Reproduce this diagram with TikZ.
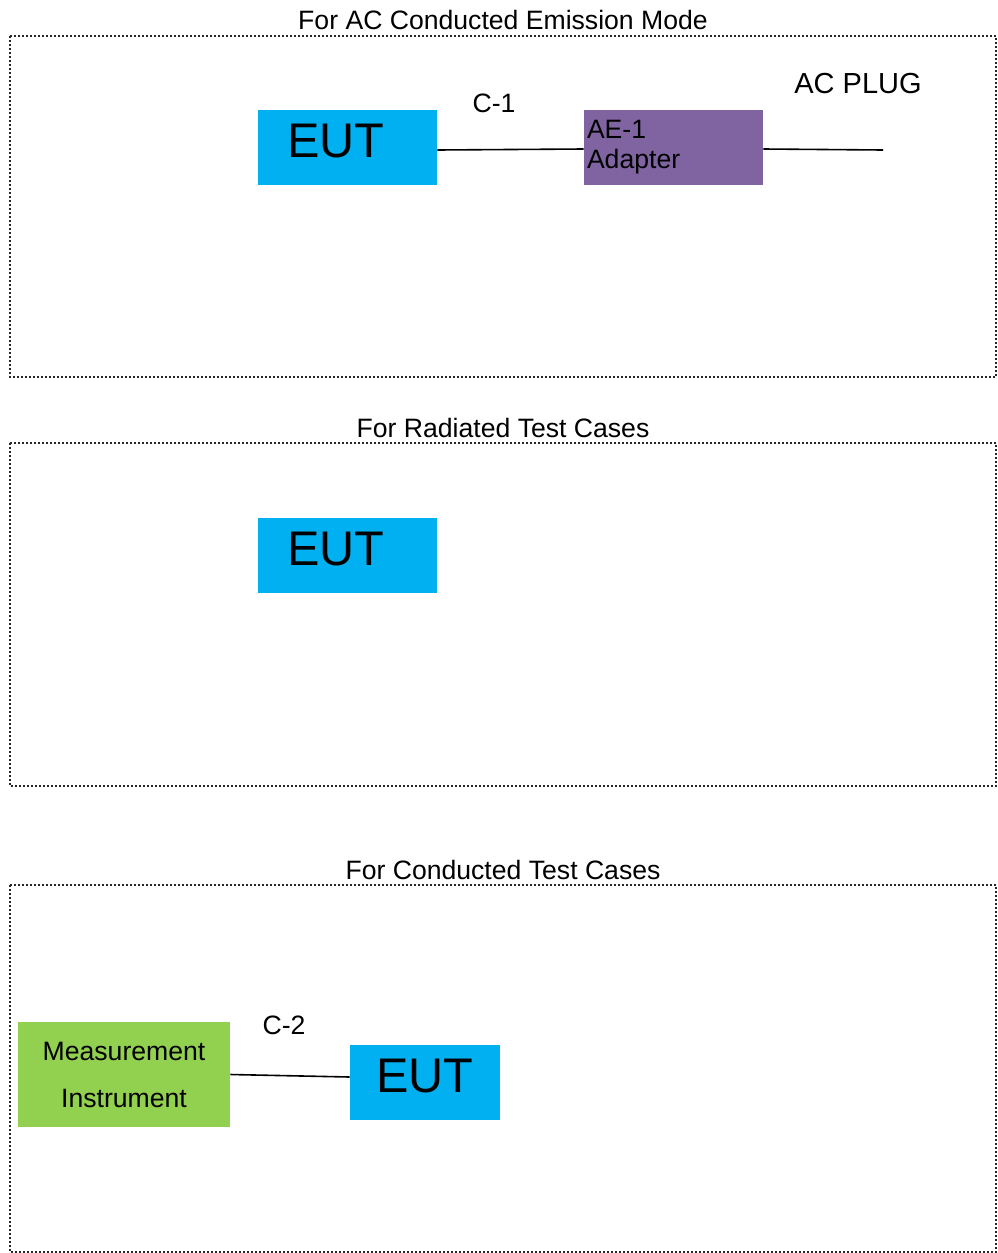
\documentclass[tikz,border=0pt]{standalone}
\usepackage{fontspec}
\setmainfont{Liberation Sans}
\definecolor{eutblue}{RGB}{0,176,240}
\definecolor{aepurple}{RGB}{128,100,162}
\definecolor{measgreen}{RGB}{146,208,80}
\tikzstyle{frame} = [draw=black!85, line width=1pt, dash pattern=on 1pt off 1pt]
\tikzstyle{caption} = [font=\fontsize{13.3}{16}\selectfont, inner sep=0pt]
\tikzstyle{eut} = [rectangle, minimum width=89.5pt, minimum height=37.5pt, text height=17.4pt, text depth=7.2pt, text centered, fill=eutblue, font=\fontsize{24.3}{28}\selectfont]
\tikzstyle{eutleft} = [eut, inner xsep=14.5pt, text width=60.5pt, align=left]
\tikzstyle{adapter} = [rectangle, minimum width=89.5pt, minimum height=37.5pt, text width=86.5pt, inner xsep=1.5pt, align=left, fill=aepurple, font=\fontsize{13.3}{15}\selectfont]
\tikzstyle{meter} = [rectangle, minimum width=106pt, minimum height=52.5pt, align=center, fill=measgreen, font=\fontsize{13.3}{23.5}\selectfont]
\tikzstyle{cable} = [line width=0.8pt]

\begin{document}
\begin{tikzpicture}[x=0.5pt, y=-0.5pt]
            \useasboundingbox (0,0) rectangle (997,1253);

            % AC conducted emission
            \node [caption] at (503,20) (title1) {For AC Conducted Emission Mode};
            \draw [frame] (10,36) rectangle (996,377);
            \node [eutleft] at (347.5,147.5) (eut1) {EUT};
            \node [adapter] at (673.5,147.5) (ae1) {AE-1\\Adapter};
            \coordinate (plug) at (883,150);
            \node [caption] at (494,103) (c1) {C-1};
            \node [caption, font=\fontsize{14.5}{17}\selectfont] at (858,84) (acplug) {AC PLUG};
            \draw [cable] ([yshift=-1.25pt]eut1.east) -- ([yshift=-0.75pt]ae1.west);
            \draw [cable] ([yshift=-0.75pt]ae1.east) -- (plug);

            % radiated
            \node [caption] at (503,428) (title2) {For Radiated Test Cases};
            \draw [frame] (10,443) rectangle (996,786);
            \node [eutleft] at (347.5,555.5) (eut2) {EUT};

            % conducted
            \node [caption] at (503,870) (title3) {For Conducted Test Cases};
            \draw [frame] (10,885) rectangle (996,1252);
            \node [meter] at (124,1074.5) (meas) {Measurement\\Instrument};
            \node [eut, minimum width=75pt] at (425,1082.5) (eut3) {EUT};
            \node [caption] at (284,1025) (c2) {C-2};
            \draw [cable] (meas.east) -- ([yshift=2.75pt]eut3.west);
\end{tikzpicture}
\end{document}
